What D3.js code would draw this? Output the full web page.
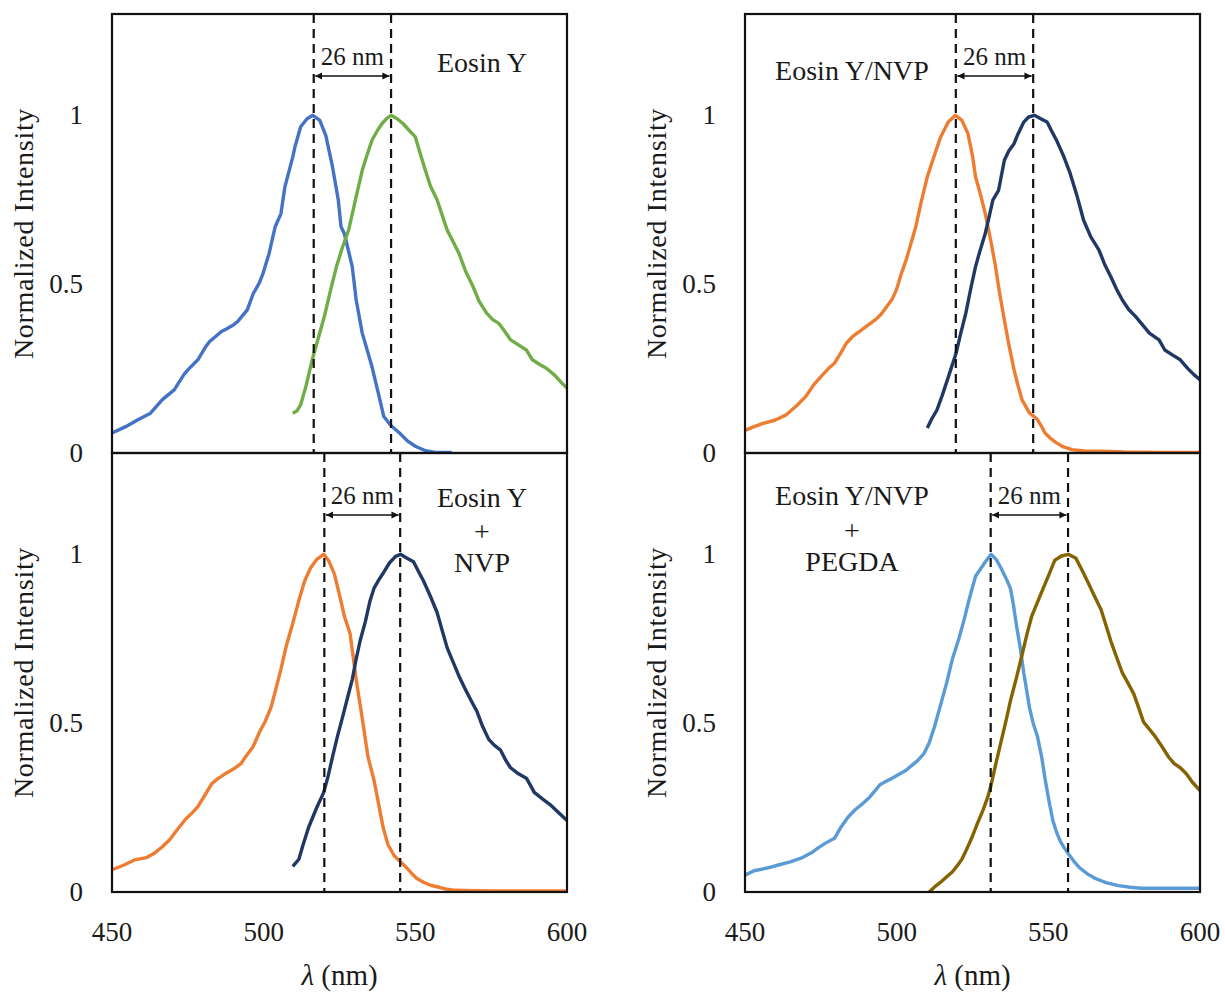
<!DOCTYPE html>
<html>
<head>
<meta charset="utf-8">
<script src="https://cdn.jsdelivr.net/npm/d3@7.9.0/dist/d3.min.js"></script>
<style>
  body { margin: 0; background: #fff; }
  text { font-family: "Liberation Serif", "DejaVu Serif", serif; fill: #1a1a1a; }
</style>
</head>
<body>
<svg id="fig" width="1225" height="993"></svg>
<script>
const xTicks = [450, 500, 550, 600];
const yTicks = [0, 0.5, 1];

// Eosin Y (blue / green)
const eyExc = [[450,0.059],[454.5,0.078],[458.7,0.099],[462.7,0.118],[466.6,0.158],[470.5,0.187],[473.7,0.232],[475,0.246],[478.3,0.276],[480.9,0.315],[482.2,0.33],[486.1,0.36],[488,0.369],[490,0.379],[491.4,0.389],[494.6,0.424],[496.6,0.473],[498.5,0.502],[499.8,0.532],[501.8,0.591],[503.8,0.67],[505.7,0.709],[507,0.788],[509.6,0.877],[510.3,0.906],[512.2,0.966],[514.3,0.99],[516.2,1.0],[518.5,0.985],[520.5,0.94],[522.7,0.847],[524.6,0.749],[525.5,0.67],[526.6,0.65],[529.2,0.552],[530.5,0.453],[532.5,0.355],[535.7,0.256],[538.3,0.158],[539.6,0.108],[542.2,0.079],[544.8,0.059],[547.5,0.035],[550,0.02],[553,0.008],[556.6,0.002],[562,0.002]];
const eyEm = [[509.6,0.118],[511,0.125],[512.2,0.143],[514,0.2],[516,0.276],[518,0.34],[520,0.404],[522,0.48],[524,0.552],[526,0.61],[528,0.66],[530.5,0.759],[532.5,0.837],[534,0.88],[535.7,0.926],[537.5,0.955],[539,0.975],[540.5,0.99],[542,1.0],[544,0.99],[546,0.975],[548,0.955],[550,0.936],[551.5,0.89],[553.3,0.837],[555,0.79],[557.2,0.749],[559,0.7],[560.5,0.66],[562.5,0.625],[564.4,0.591],[566.5,0.54],[569,0.493],[571,0.45],[573.5,0.414],[575.5,0.395],[577.5,0.384],[579.5,0.36],[581.4,0.335],[584,0.32],[586.6,0.305],[588.6,0.276],[591,0.262],[593.2,0.251],[596,0.23],[598,0.21],[600,0.192]];

// Eosin Y/NVP (orange / navy)
const nvpExc = [[450,0.067],[453,0.078],[456,0.088],[459.8,0.097],[463.6,0.113],[467,0.14],[470,0.167],[472.5,0.2],[475.1,0.227],[477.5,0.25],[479.5,0.266],[481.5,0.295],[483.4,0.325],[485.5,0.345],[487.8,0.36],[490,0.375],[492.9,0.394],[494.8,0.41],[496.7,0.433],[498.5,0.455],[499.9,0.483],[501.5,0.53],[503.1,0.571],[504.7,0.62],[506.3,0.67],[508,0.74],[510.1,0.818],[512,0.87],[514.5,0.936],[517,0.98],[519.4,1.0],[521.5,0.985],[523.5,0.946],[525,0.88],[526,0.818],[527.5,0.77],[529.2,0.709],[531,0.63],[532.4,0.562],[534,0.47],[535.5,0.394],[537,0.32],[538.7,0.246],[540,0.2],[541.3,0.158],[543.8,0.118],[545,0.11],[546.4,0.099],[548,0.075],[548.9,0.059],[550.5,0.045],[552.7,0.03],[555,0.018],[557.8,0.01],[562,0.006],[568,0.005],[575,0.003],[587,0.002],[600,0.002]];
const nvpEm = [[510.1,0.074],[511.5,0.1],[513.3,0.128],[515,0.17],[517.1,0.227],[519.6,0.296],[521,0.35],[522.8,0.414],[524.5,0.49],[526,0.552],[527.5,0.6],[529.2,0.65],[530.5,0.7],[531.7,0.749],[533.6,0.778],[535.5,0.867],[537,0.895],[538.7,0.916],[540,0.945],[541.9,0.98],[543.5,0.995],[545.4,1.0],[547.5,0.99],[549.6,0.98],[551,0.955],[552.7,0.926],[555,0.88],[557.2,0.828],[559.5,0.76],[561.6,0.69],[564,0.64],[566.7,0.601],[568.5,0.56],[570.6,0.522],[572.5,0.485],[574.4,0.453],[576.5,0.425],[578.8,0.404],[581,0.38],[583.3,0.355],[586.5,0.335],[588.4,0.305],[591,0.29],[593.5,0.276],[596,0.25],[598,0.232],[600,0.217]];

// Eosin Y + NVP (orange / navy)
const mixExc = [[450,0.066],[454,0.08],[457.4,0.095],[461.4,0.102],[464,0.115],[466.6,0.134],[469,0.155],[471.1,0.18],[474.4,0.217],[476.5,0.235],[478.3,0.253],[480.5,0.285],[482.9,0.321],[484.8,0.335],[486.8,0.347],[490.7,0.368],[492.5,0.38],[494,0.4],[496.5,0.43],[498.6,0.473],[500.5,0.505],[502.4,0.546],[504,0.6],[505.7,0.66],[507.5,0.73],[509.6,0.796],[511.5,0.86],[513.5,0.921],[515.5,0.96],[517.4,0.984],[519.8,1.0],[521.5,0.98],[523.3,0.942],[525,0.88],[526.6,0.817],[528.5,0.765],[530.5,0.629],[532.5,0.514],[534.4,0.4],[536.4,0.33],[537.7,0.27],[539.4,0.19],[541,0.14],[543,0.108],[545,0.09],[546.8,0.075],[548.8,0.055],[550.5,0.04],[552.7,0.029],[555,0.02],[557.9,0.014],[560.5,0.008],[563.1,0.005],[570,0.004],[576.2,0.003],[585,0.003],[600,0.003]];
const mixEm = [[509.6,0.076],[511.6,0.097],[513,0.14],[514.8,0.191],[517.4,0.248],[519.8,0.295],[521.3,0.345],[522.7,0.4],[524.3,0.46],[525.9,0.514],[527.5,0.57],[529.2,0.629],[530.5,0.69],[531.8,0.744],[533.5,0.8],[535,0.86],[536.4,0.9],[538,0.925],[539.6,0.947],[541.5,0.975],[543.5,0.994],[545.1,1.0],[547,0.99],[549.4,0.978],[551,0.95],[552.7,0.921],[555,0.875],[557.2,0.827],[559,0.77],[560.5,0.723],[562.5,0.68],[564.4,0.639],[566.5,0.6],[568.5,0.565],[570.3,0.535],[572.2,0.49],[574.2,0.452],[576,0.435],[578.1,0.42],[579.8,0.39],[581.4,0.368],[584,0.35],[586.6,0.337],[588,0.315],[589.2,0.295],[592,0.275],[594.4,0.259],[597,0.237],[600,0.212]];

// Eosin Y/NVP + PEGDA (light blue / olive)
const pegExc = [[450,0.05],[453,0.063],[457.3,0.071],[461,0.08],[464.9,0.089],[468.5,0.1],[471.9,0.116],[474,0.13],[476.4,0.144],[479.5,0.159],[481.5,0.19],[484,0.222],[486.5,0.245],[489.1,0.264],[491,0.28],[492.9,0.3],[494.5,0.318],[496.1,0.326],[498.5,0.337],[500.5,0.347],[503,0.36],[505,0.375],[506.9,0.389],[509,0.41],[510.7,0.441],[512.5,0.49],[514.5,0.555],[516.5,0.62],[518.4,0.691],[520.5,0.75],[522.2,0.805],[524,0.87],[526,0.935],[527.5,0.955],[529.2,0.977],[531.1,1.0],[532.8,0.985],[534.3,0.961],[536,0.93],[537.5,0.899],[538.5,0.85],[539.4,0.795],[540.8,0.72],[541.9,0.649],[543.8,0.545],[545,0.5],[546.4,0.461],[547.8,0.4],[548.9,0.336],[550.2,0.27],[551.5,0.211],[552.8,0.175],[554,0.149],[555.3,0.13],[556.6,0.113],[558.5,0.09],[560.4,0.071],[563,0.053],[565.5,0.04],[569,0.028],[573.1,0.019],[577,0.014],[580.7,0.011],[590,0.011],[600,0.011]];
const pegEm = [[510.7,0.0],[512.5,0.015],[514.5,0.029],[516.5,0.045],[518.4,0.06],[520,0.078],[521.5,0.097],[523,0.125],[524.7,0.159],[526.5,0.2],[528.5,0.243],[530,0.28],[531.1,0.316],[532.7,0.38],[534.3,0.441],[536,0.505],[537.5,0.566],[539.5,0.635],[541.3,0.701],[543,0.765],[544.5,0.816],[546.5,0.86],[548.3,0.899],[550.2,0.94],[552.1,0.982],[554.3,0.995],[556.6,1.0],[559.1,0.988],[561,0.955],[562.9,0.92],[565,0.88],[567.4,0.836],[569,0.79],[570.6,0.743],[572.5,0.695],[574.4,0.649],[576.5,0.615],[578.2,0.586],[580,0.54],[581.4,0.503],[583.5,0.48],[585.2,0.461],[587.5,0.43],[589.7,0.399],[591.5,0.38],[593.5,0.368],[595.5,0.35],[597.5,0.325],[600,0.3]];

// peak wavelengths marked by dashed lines
const eyPeaks = [516.5, 542];
const nvpPeaks = [519.5, 545];
const mixPeaks = [520, 545];
const pegPeaks = [531, 556.5];
const shiftLabel = "26 nm";

const panels = [
  { col: 0, row: 0, series: [[eyExc, "#4472c4"], [eyEm, "#70ad47"]], peaks: eyPeaks,
    label: ["Eosin Y"], labelX: 370, labelY: [58] },
  { col: 1, row: 0, series: [[nvpExc, "#ed7d31"], [nvpEm, "#203864"]], peaks: nvpPeaks,
    label: ["Eosin Y/NVP"], labelX: 107, labelY: [66] },
  { col: 0, row: 1, series: [[mixExc, "#ed7d31"], [mixEm, "#203864"]], peaks: mixPeaks,
    label: ["Eosin Y", "+", "NVP"], labelX: 370, labelY: [54, 88, 119] },
  { col: 1, row: 1, series: [[pegExc, "#5b9bd5"], [pegEm, "#846300"]], peaks: pegPeaks,
    label: ["Eosin Y/NVP", "+", "PEGDA"], labelX: 107, labelY: [52, 87, 118] }
];

const colLeft = [112, 745];
const rowTop = [14, 453];
const w = 455, h = 439;

const svg = d3.select("#fig");

svg.append("defs").append("marker")
    .attr("id", "head")
    .attr("viewBox", "0 0 10 10")
    .attr("refX", 10).attr("refY", 5)
    .attr("markerWidth", 4.5).attr("markerHeight", 4.5)
    .attr("markerUnits", "strokeWidth")
    .attr("orient", "auto-start-reverse")
  .append("path")
    .attr("d", "M0,0 L10,5 L0,10 z")
    .attr("fill", "#111");

const x = d3.scaleLinear().domain([450, 600]).range([0, w]);
const y = d3.scaleLinear().domain([0, 1.3]).range([h, 0]);

const line = d3.line()
    .x(d => x(d[0]))
    .y(d => y(d[1]));

panels.forEach(p => {
    const g = svg.append("g")
        .attr("transform", `translate(${colLeft[p.col]}, ${rowTop[p.row]})`);

    p.series.forEach(([data, color]) => {
        g.append("path")
            .datum(data)
            .attr("fill", "none")
            .attr("stroke", color)
            .attr("stroke-width", 3.4)
            .attr("stroke-linejoin", "round")
            .attr("d", line);
    });

    g.selectAll(".peak")
        .data(p.peaks)
        .enter()
        .append("line")
        .attr("x1", d => x(d)).attr("x2", d => x(d))
        .attr("y1", 0).attr("y2", h)
        .attr("stroke", "#111")
        .attr("stroke-width", 2.2)
        .attr("stroke-dasharray", "9,6");

    // double arrow + shift label
    g.append("line")
        .attr("x1", x(p.peaks[0]) + 1.5).attr("x2", x(p.peaks[1]) - 1.5)
        .attr("y1", 62).attr("y2", 62)
        .attr("stroke", "#111")
        .attr("stroke-width", 1.6)
        .attr("marker-start", "url(#head)")
        .attr("marker-end", "url(#head)");

    g.append("text")
        .attr("x", (x(p.peaks[0]) + x(p.peaks[1])) / 2)
        .attr("y", 51)
        .attr("text-anchor", "middle")
        .style("font-size", "25px")
        .text(shiftLabel);

    p.label.forEach((t, i) => {
        g.append("text")
            .attr("x", p.labelX)
            .attr("y", p.labelY[i])
            .attr("text-anchor", "middle")
            .style("font-size", "28px")
            .text(t);
    });

    // y tick labels (no tick marks)
    g.selectAll(".ytick")
        .data(yTicks)
        .enter()
        .append("text")
        .attr("x", -29)
        .attr("y", d => y(d))
        .attr("dy", "0.34em")
        .attr("text-anchor", "end")
        .style("font-size", "27px")
        .text(d => d);

    g.append("text")
        .attr("transform", `translate(-79, ${h / 2}) rotate(-90)`)
        .attr("text-anchor", "middle")
        .style("font-size", "28px")
        .style("letter-spacing", "0.7px")
        .text("Normalized Intensity");

    if (p.row === 1) {
        g.selectAll(".xtick")
            .data(xTicks)
            .enter()
            .append("text")
            .attr("x", d => x(d))
            .attr("y", h + 49)
            .attr("text-anchor", "middle")
            .style("font-size", "27px")
            .text(d => d);

        const xl = g.append("text")
            .attr("x", w / 2)
            .attr("y", h + 93)
            .attr("text-anchor", "middle")
            .style("font-size", "29px");
        xl.append("tspan").style("font-style", "italic").text("λ");
        xl.append("tspan").text(" (nm)");
    }

    g.append("rect")
        .attr("width", w).attr("height", h)
        .attr("fill", "none")
        .attr("stroke", "#111")
        .attr("stroke-width", 2.2);
});
</script>
</body>
</html>
